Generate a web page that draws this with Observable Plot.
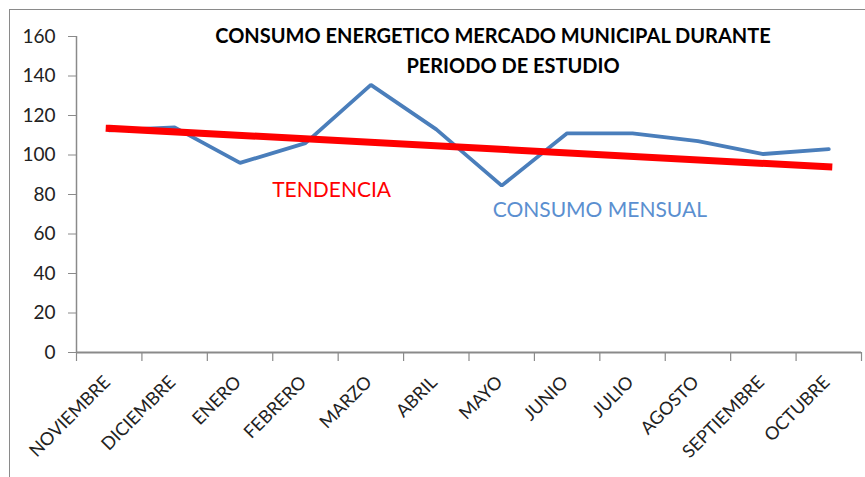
<!DOCTYPE html>
<html><head><meta charset="utf-8">
<script src="https://cdn.jsdelivr.net/npm/d3@7"></script>
<script src="https://cdn.jsdelivr.net/npm/@observablehq/plot@0.6"></script>
<style>
html,body{margin:0;padding:0;background:#fff;overflow:hidden}
#wrap{position:relative;width:865px;height:477px}
#border{position:absolute;left:9px;top:9px;width:870px;height:480px;border:1.5px solid #8a8a8a;box-sizing:border-box;pointer-events:none}
</style></head>
<body><div id="wrap"><div id="border"></div></div>
<script>
const months = ["NOVIEMBRE","DICIEMBRE","ENERO","FEBRERO","MARZO","ABRIL","MAYO","JUNIO","JULIO","AGOSTO","SEPTIEMBRE","OCTUBRE"];
const consumo = [112.5, 114, 96, 106, 135.5, 113, 84.5, 111, 111, 107, 100.5, 103];
const trendMonths = ["NOVIEMBRE","OCTUBRE"];
const trendValues = [113.5, 94];
const yTicks = [0,20,40,60,80,100,120,140,160];
const titleLines = ["CONSUMO ENERGETICO MERCADO MUNICIPAL DURANTE","PERIODO DE ESTUDIO"];
const labels = [
  {text:"TENDENCIA", month:"FEBRERO", offset:0.4, value:82, color:"#ff0000"},
  {text:"CONSUMO MENSUAL", month:"JUNIO", offset:0.5, value:72, color:"#5b8fd0"}
];

const idx = m => months.indexOf(m);
const series = consumo.map((v,i)=>({i, v}));
const trend = trendMonths.map((m,k)=>({i: idx(m), v: trendValues[k]}));
const bounds = d3.range(months.length+1).map(i=>i-0.5);
const font = "Lato, 'Open Sans', sans-serif";

const chart = Plot.plot({
  width: 865, height: 477,
  marginLeft: 76, marginRight: 4, marginTop: 36, marginBottom: 125,
  style: {fontFamily: font, background: "transparent", overflow: "visible"},
  x: {type: "linear", domain: [-0.5, months.length-0.5]},
  y: {domain: [0,160]},
  marks: [
    Plot.axisY({ticks: yTicks, tickSize: 8, tickPadding: 13, fontSize: 19, stroke:"#8a8a8a", fill:"#222", label: null}),
    Plot.axisX({ticks: bounds, tickSize: 9, tickFormat: () => "", stroke:"#8a8a8a", strokeWidth: 1.2, label: null}),
    Plot.axisX({ticks: d3.range(months.length), tickSize: 0, tickFormat: i => months[i], tickRotate: -45, fontSize: 18, dx: -2, dy: 15, fill:"#222", label: null}),
    Plot.ruleX([-0.5], {stroke: "#8a8a8a", strokeWidth: 1.5}),
    Plot.ruleY([0], {stroke: "#8a8a8a", strokeWidth: 2}),
    Plot.line(series, {x: "i", y: "v", stroke: "#4a7ebb", strokeWidth: 3.8, strokeLinejoin: "miter"}),
    Plot.line(trend, {x: "i", y: "v", stroke: "#ff0000", strokeWidth: 7, strokeLinecap: "square"}),
    Plot.text(labels, {x: d => idx(d.month)+d.offset, y: "value", text: "text", fill: "color", fontSize: 21}),
    Plot.text([titleLines[0]], {frameAnchor: "top", dx: 24, dy: -8, fontSize: 20, fontWeight: "bold", fill: "#000"}),
    Plot.text([titleLines[1]], {frameAnchor: "top", dx: 44, dy: 22, fontSize: 20, fontWeight: "bold", fill: "#000"})
  ]
});
document.getElementById("wrap").appendChild(chart);
chart.style.position = "absolute"; chart.style.left = "0"; chart.style.top = "0";
</script></body></html>
